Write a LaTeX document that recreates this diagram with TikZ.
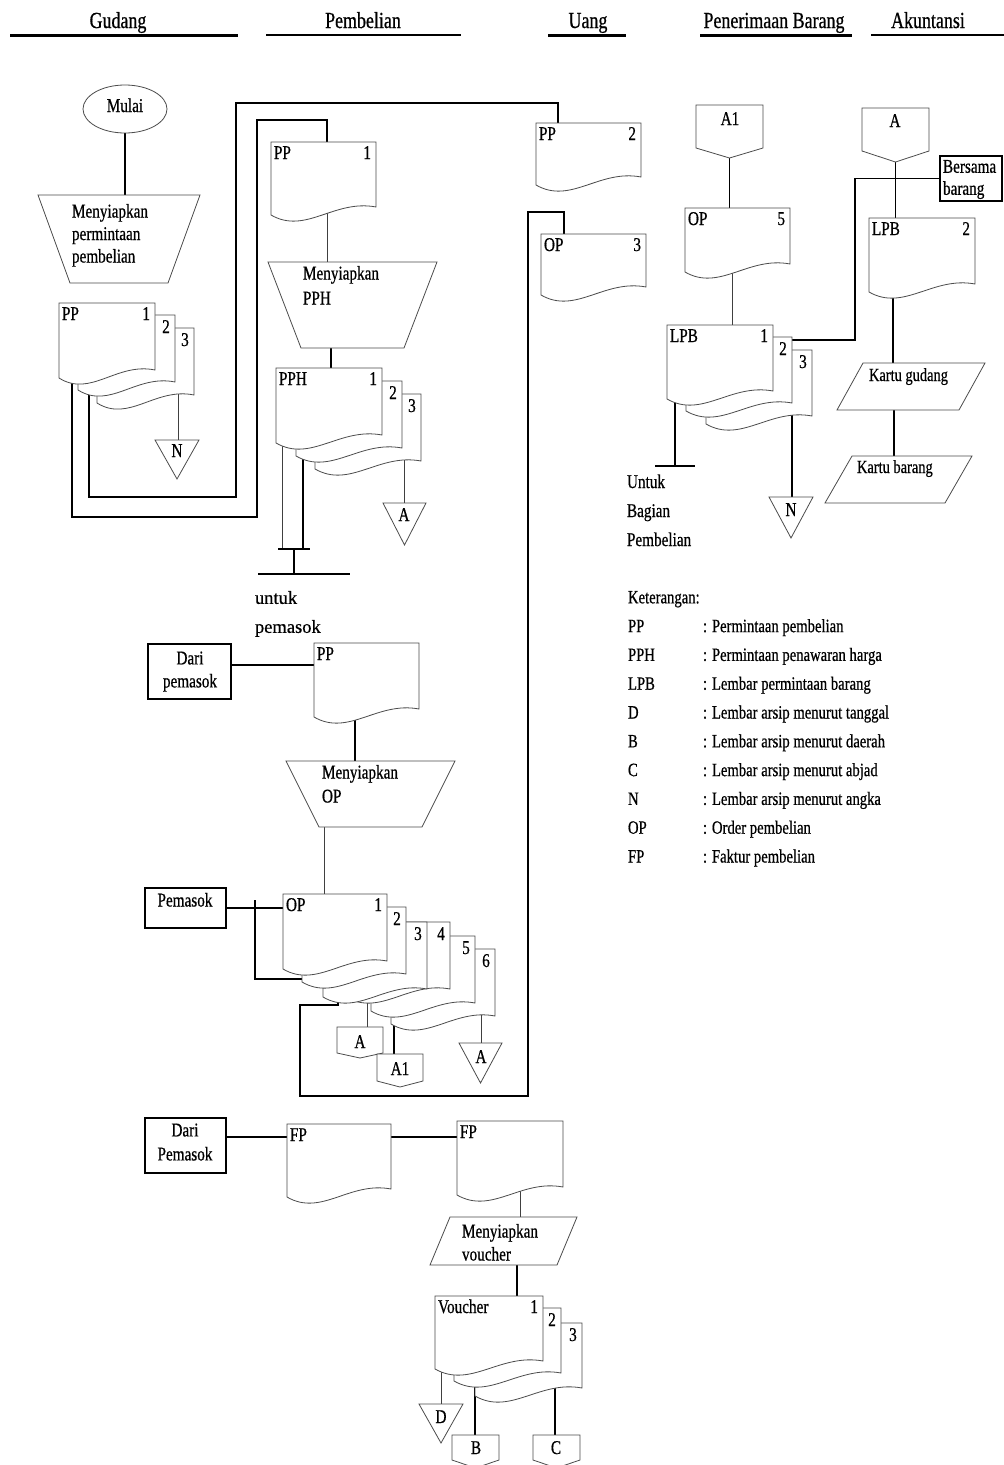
\documentclass[tikz,border=0pt]{standalone}
\usepackage{fontspec}
\setmainfont{Liberation Serif}[FakeStretch=0.78,FakeBold=0.6]
\newfontfamily\plainserif{Liberation Serif}[FakeBold=0.6]
\usetikzlibrary{calc,shapes.geometric}
\pgfdeclarelayer{bg}
\pgfsetlayers{bg,main}
\newcommand\fb{\fontsize{19.5}{24}\selectfont}
\newcommand\fh{\fontsize{23}{27}\selectfont}
\tikzset{
  shp/.style={draw=black!70, line width=0.8pt, fill=white},
  conn/.style={draw=black, line width=1.3pt},
  lite/.style={draw=black!75, line width=0.9pt},
  bx/.style={inner sep=0pt, outer sep=0pt, anchor=north west},
  tx/.style={inner sep=0pt, outer sep=0pt, font=\fb},
  heavybox/.style={draw=black, line width=1.4pt, fill=white},
}
\newcommand\Doc[5]{\node[bx, minimum width=#4pt, minimum height=#5pt] (#1) at (#2,#3) {};
 \draw[shp] (#1.north west) -- (#1.north east) -- ++(0,#5-8) .. controls +(-0.4*#4,-8) and +(0.33*#4,20) .. (#1.south west) -- cycle;}
\newcommand\DL[2]{\node[tx, anchor=base west] (#1-l) at ($(#1.north west)+(3,17)$) {#2};}
\newcommand\DR[2]{\node[tx, anchor=base east] (#1-r) at ($(#1.north east)+(-5,17)$) {#2};}
\newcommand\DC[2]{\node[tx, anchor=base] (#1-r) at ($(#1.north east)+(-9,18)$) {#2};}
\newcommand\Trap[6]{\node[bx, minimum width=#4pt, minimum height=#5pt] (#1) at (#2,#3) {};
 \draw[shp] (#1.north west) -- (#1.north east) -- ($(#1.south east)+(-#6,0)$) -- ($(#1.south west)+(#6,0)$) -- cycle;}
\newcommand\Para[6]{\node[bx, minimum width=#4pt, minimum height=#5pt] (#1) at (#2,#3) {};
 \draw[shp] ($(#1.north west)+(#6,0)$) -- (#1.north east) -- ($(#1.south east)+(-#6,0)$) -- (#1.south west) -- cycle;}
\newcommand\Off[6]{\node[bx, minimum width=#4pt, minimum height=#5pt] (#1) at (#2,#3) {};
 \draw[shp] (#1.north west) -- (#1.north east) -- ($(#1.north east)+(0,#6)$) -- (#1.south) -- ($(#1.north west)+(0,#6)$) -- cycle;}
\newcommand\Tri[5]{\node[bx, minimum width=#4pt, minimum height=#5pt] (#1) at (#2,#3) {};
 \draw[shp] (#1.north west) -- (#1.north east) -- (#1.south) -- cycle;}
\begin{document}
\begin{tikzpicture}[x=1pt,y=-1pt]
\useasboundingbox (0,0) rectangle (1004,1465);

% ---------- headers ----------
\node[tx, font=\fh, anchor=base] (hg) at (118,28) {Gudang};
\node[tx, font=\fh, anchor=base] (hp) at (363,28) {Pembelian};
\node[tx, font=\fh, anchor=base] (hu) at (588,28) {Uang};
\node[tx, font=\fh, anchor=base] (hr) at (774,28) {Penerimaan Barang};
\node[tx, font=\fh, anchor=base] (ha) at (928,28) {Akuntansi};
\draw[line width=3pt] (10,35) -- (238,35);
\draw[line width=2pt] (266,35) -- (461,35);
\draw[line width=3pt] (548,35) -- (626,35);
\draw[line width=3pt] (700,35) -- (852,35);
\draw[line width=2pt] (871,35) -- (1004,35);

% ---------- Gudang ----------
\node[shp, ellipse, minimum width=84pt, minimum height=48pt, inner sep=0pt] (mulai) at (125,109) {};
\node[tx, anchor=base] (mulai-t) at (125,112) {Mulai};
\Trap{t1}{38}{195}{162}{88}{32}
\node[tx, anchor=north west, align=left, font=\fontsize{19.5}{22.5}\selectfont] (t1-t) at (72,204) {Menyiapkan\\permintaan\\pembelian};
\Doc{g3}{97}{328}{97}{75} \DC{g3}{3}
\Doc{g2}{78}{315}{97}{75} \DC{g2}{2}
\Doc{g1}{59}{303}{96}{75} \DL{g1}{PP} \DR{g1}{1}
\Tri{triN}{155}{440}{44}{39}
\node[tx, anchor=base] (triN-t) at (177,457) {N};

% ---------- Pembelian ----------
\Doc{pb1}{271}{142}{105}{73} \DL{pb1}{PP} \DR{pb1}{1}
\Trap{t2}{268}{262}{169}{86}{33}
\node[tx, anchor=north west, align=left, font=\fontsize{19.5}{25}\selectfont] (t2-t) at (303,266) {Menyiapkan\\PPH};
\Doc{h3}{315}{394}{106}{75} \DC{h3}{3}
\Doc{h2}{296}{381}{106}{75} \DC{h2}{2}
\Doc{h1}{276}{368}{106}{75} \DL{h1}{PPH} \DR{h1}{1}
\Tri{triA}{383}{503}{43}{42}
\node[tx, anchor=base] (triA-t) at (404,521) {A};
\coordinate (bar1) at (294,549);
\coordinate (bar2) at (294,574);
\node[tx, anchor=north west, align=left, font=\plainserif\fontsize{18.5}{29}\selectfont] (untuk1) at (255,591) {untuk\\pemasok};

% ---------- Uang ----------
\Doc{u1}{536}{123}{105}{62} \DL{u1}{PP} \DR{u1}{2}
\Doc{u2}{541}{234}{105}{61} \DL{u2}{OP} \DR{u2}{3}

% ---------- Penerimaan Barang ----------
\Off{a1}{696}{105}{67}{53}{43}
\node[tx, anchor=base] (a1-t) at (730,125) {A1};
\Doc{op5}{685}{208}{105}{64} \DL{op5}{OP} \DR{op5}{5}
\Doc{l3}{706}{350}{106}{74} \DC{l3}{3}
\Doc{l2}{686}{337}{106}{74} \DC{l2}{2}
\Doc{l1}{667}{325}{106}{74} \DL{l1}{LPB} \DR{l1}{1}
\Tri{triN2}{769}{497}{44}{41}
\node[tx, anchor=base] (triN2-t) at (791,516) {N};
\coordinate (bar3) at (675,466);
\node[tx, anchor=north west, align=left, font=\fontsize{19.5}{29}\selectfont] (untuk2) at (627,474.5) {Untuk\\Bagian\\Pembelian};
\node[bx, heavybox, minimum width=62pt, minimum height=45pt] (bersama) at (940,156) {};
\node[tx, anchor=north west, align=left, font=\fontsize{19.5}{22}\selectfont] (bersama-t) at (943,160) {Bersama\\barang};

% ---------- Akuntansi ----------
\Off{aA}{862}{108}{67}{54}{43}
\node[tx, anchor=base] (aA-t) at (895,127) {A};
\Doc{lp2}{869}{218}{106}{74} \DL{lp2}{LPB} \DR{lp2}{2}
\Para{kg}{837}{363}{148}{47}{26}
\node[tx, anchor=base west, font=\fontsize{18.5}{22}\selectfont] (kg-t) at (869,381) {Kartu gudang};
\Para{kb}{825}{456}{147}{47}{27}
\node[tx, anchor=base west, font=\fontsize{18.5}{22}\selectfont] (kb-t) at (857,473) {Kartu barang};

% ---------- legend ----------
\node[tx, anchor=north west, align=left, font=\fontsize{18.8}{28.8}\selectfont] (legend) at (628,591) {Keterangan:\\
\makebox[75pt][l]{PP}: Permintaan pembelian\\
\makebox[75pt][l]{PPH}: Permintaan penawaran harga\\
\makebox[75pt][l]{LPB}: Lembar permintaan barang\\
\makebox[75pt][l]{D}: Lembar arsip menurut tanggal\\
\makebox[75pt][l]{B}: Lembar arsip menurut daerah\\
\makebox[75pt][l]{C}: Lembar arsip menurut abjad\\
\makebox[75pt][l]{N}: Lembar arsip menurut angka\\
\makebox[75pt][l]{OP}: Order pembelian\\
\makebox[75pt][l]{FP}: Faktur pembelian};

% ---------- middle Pembelian ----------
\node[bx, heavybox, minimum width=83pt, minimum height=55pt] (dp1) at (148,644) {};
\node[tx, anchor=north, align=center, font=\fontsize{19.5}{23}\selectfont] (dp1-t) at (190,651.5) {Dari\\pemasok};
\Doc{m1}{314}{643}{105}{74} \DL{m1}{PP}
\Trap{t3}{286}{761}{169}{66}{33}
\node[tx, anchor=north west, align=left, font=\fontsize{19.5}{24}\selectfont] (t3-t) at (322,765) {Menyiapkan\\OP};
\node[bx, heavybox, minimum width=81pt, minimum height=40pt] (pm) at (145,888) {};
\node[tx, anchor=base] (pm-t) at (185,906.5) {Pemasok};
\Doc{o6}{391}{949}{104}{75} \DC{o6}{6}
\Doc{o5}{371}{936}{104}{75} \DC{o5}{5}
\Doc{o4}{346}{922}{104}{75} \DC{o4}{4}
\Doc{o3}{323}{922}{104}{75} \DC{o3}{3}
\Doc{o2}{302}{907}{104}{75} \DC{o2}{2}
\Doc{o1}{283}{894}{104}{75} \DL{o1}{OP} \DR{o1}{1}
\Off{offA}{337}{1027}{46}{31}{26}
\node[tx, anchor=base] (offA-t) at (360,1048) {A};
\Off{offA1}{377}{1054}{46}{33}{27}
\node[tx, anchor=base] (offA1-t) at (400,1075) {A1};
\Tri{triA2}{459}{1043}{43}{40}
\node[tx, anchor=base] (triA2-t) at (481,1063) {A};

% ---------- bottom ----------
\node[bx, heavybox, minimum width=81pt, minimum height=55pt] (dp2) at (145,1118) {};
\node[tx, anchor=north, align=center, font=\fontsize{19.5}{24}\selectfont] (dp2-t) at (185,1123.5) {Dari\\Pemasok};
\Doc{fp1}{287}{1124}{104}{73} \DL{fp1}{FP}
\Doc{fp2}{457}{1121}{106}{74} \DL{fp2}{FP}
\Para{mv}{430}{1217}{147}{48}{20}
\node[tx, anchor=north west, align=left, font=\fontsize{19.5}{23}\selectfont] (mv-t) at (462,1224) {Menyiapkan\\voucher};
\Doc{v3}{475}{1323}{107}{73} \DC{v3}{3}
\Doc{v2}{454}{1308}{107}{73} \DC{v2}{2}
\Doc{v1}{435}{1296}{108}{73} \DL{v1}{Voucher} \DR{v1}{1}
\Tri{triD}{419}{1404}{44}{39}
\node[tx, anchor=base] (triD-t) at (441,1423) {D};
\Off{offB}{452}{1435}{47}{33}{25}
\node[tx, anchor=base] (offB-t) at (476,1454) {B};
\Off{offC}{533}{1435}{47}{33}{25}
\node[tx, anchor=base] (offC-t) at (556,1454) {C};

% ---------- connectors (behind shapes) ----------
\begin{pgfonlayer}{bg}
\fill[white] (0,0) rectangle (1004,1465);
\coordinate (g1o) at ($(g1.south west)+(13,-10)$);
\coordinate (g2o) at ($(g2.south west)+(11,-10)$);
\coordinate (g3o) at ($(g3.south west)+(81,-10)$);
\coordinate (pb1o) at ($(pb1.south west)+(56,-10)$);
\coordinate (t2o) at ($(t2.north west)+(63,40)$);
\coordinate (h1o) at ($(h1.south west)+(6,-10)$);
\coordinate (h2o) at ($(h2.south west)+(7,-10)$);
\coordinate (h3o) at ($(h3.south west)+(89,-10)$);
\coordinate (o2o) at ($(o2.south west)+(8,-3)$);
\coordinate (o3o) at ($(o3.south west)+(15,-10)$);
\coordinate (o4o) at ($(o4.south west)+(21,-10)$);
\coordinate (o5o) at ($(o5.south west)+(23,-10)$);
\coordinate (o6o) at ($(o6.south west)+(90,-10)$);
\coordinate (op5o) at ($(op5.south west)+(47,-10)$);
\coordinate (l1o) at ($(l1.south west)+(8,-10)$);
\coordinate (l2o) at ($(l2.north east)+(-5,3)$);
\coordinate (l3o) at ($(l3.south west)+(86,-10)$);
\coordinate (lp2o) at ($(lp2.south west)+(24,-10)$);
\coordinate (kgo) at ($(kg.south west)+(57,-5)$);
\coordinate (dp1o) at ($(dp1.north east)+(0,21)$);
\coordinate (m1o) at ($(m1.south west)+(41,-10)$);
\coordinate (t3o) at ($(t3.north west)+(38,40)$);
\coordinate (dp2o) at ($(dp2.north east)+(0,19)$);
\coordinate (fp1o) at ($(fp1.north east)+(0,13)$);
\coordinate (fp2o) at ($(fp2.south west)+(63,-10)$);
\coordinate (mvo) at ($(mv.north west)+(87,30)$);
\coordinate (v1o) at ($(v1.south west)+(6,-10)$);
\coordinate (v2o) at ($(v2.south west)+(21,-10)$);
\coordinate (v3o) at ($(v3.south west)+(80,-10)$);

\draw[conn] (mulai.south) -- (mulai.south |- t1.north);
\draw[lite] (g3o) -- (g3o |- triN.north);
\draw[conn] (g1o) |- (257,517) -- (257,120) -| ($(pb1.north west)+(56,0)$);
\draw[conn] (g2o) |- (236,497) -- (236,103) -| ($(u1.north west)+(22,0)$);
\draw[lite] (pb1o) -- (pb1o |- t2.north);
\draw[conn] (t2o) -- (t2o |- h1.north);
\draw[lite] (h1o) |- (bar1);
\draw[conn] (h2o) |- (bar1);
\draw[conn] ($(bar1)+(-16,0)$) -- ($(bar1)+(16,0)$);
\draw[conn] (bar1) -- (bar2);
\draw[conn] ($(bar2)+(-36,0)$) -- ($(bar2)+(56,0)$);
\draw[lite] (h3o) -- (h3o |- triA.north);
\draw[conn] (o3o) |- (300,1005) -- (300,1096) -- (528,1096) -- (528,212) -| ($(u2.north west)+(23,0)$);
\draw[conn] (a1.south) -- (a1.south |- op5.north);
\draw[lite] (op5o) -- (op5o |- l1.north);
\draw[conn] (l1o) -- (bar3);
\draw[conn] ($(bar3)+(-20,0)$) -- ($(bar3)+(20,0)$);
\draw[conn] (l3o) -- (l3o |- triN2.north);
\draw[conn] (l2o) -- (855,340) |- (bersama.west);
\draw[conn] (aA.south) -- (aA.south |- lp2.north);
\draw[conn] (lp2o) -- (lp2o |- kg.north);
\draw[conn] (kgo) -- (kgo |- kb.north);
\draw[conn] (dp1o) -- (dp1o -| m1.west);
\draw[conn] (m1o) -- (m1o |- t3.north);
\draw[lite] (t3o) -- (t3o |- o1.north);
\draw[conn] (pm.east) -- (pm.east -| o1.west);
\draw[conn] (o2o) -- (255,979) -- (255,900);
\draw[lite] (o4o) -- (o4o |- offA.north);
\draw[conn] (o5o) -- (o5o |- offA1.north);
\draw[lite] (o6o) -- (o6o |- triA2.north);
\draw[conn] (dp2o) -- (dp2o -| fp1.west);
\draw[conn] (fp1o) -- (fp1o -| fp2.west);
\draw[lite] (fp2o) -- (fp2o |- mv.north);
\draw[conn] (mvo) -- (mvo |- v1.north);
\draw[lite] (v1o) -- (v1o |- triD.north);
\draw[conn] (v2o) -- (v2o |- offB.north);
\draw[conn] (v3o) -- (v3o |- offC.north);
\end{pgfonlayer}
\end{tikzpicture}
\end{document}
